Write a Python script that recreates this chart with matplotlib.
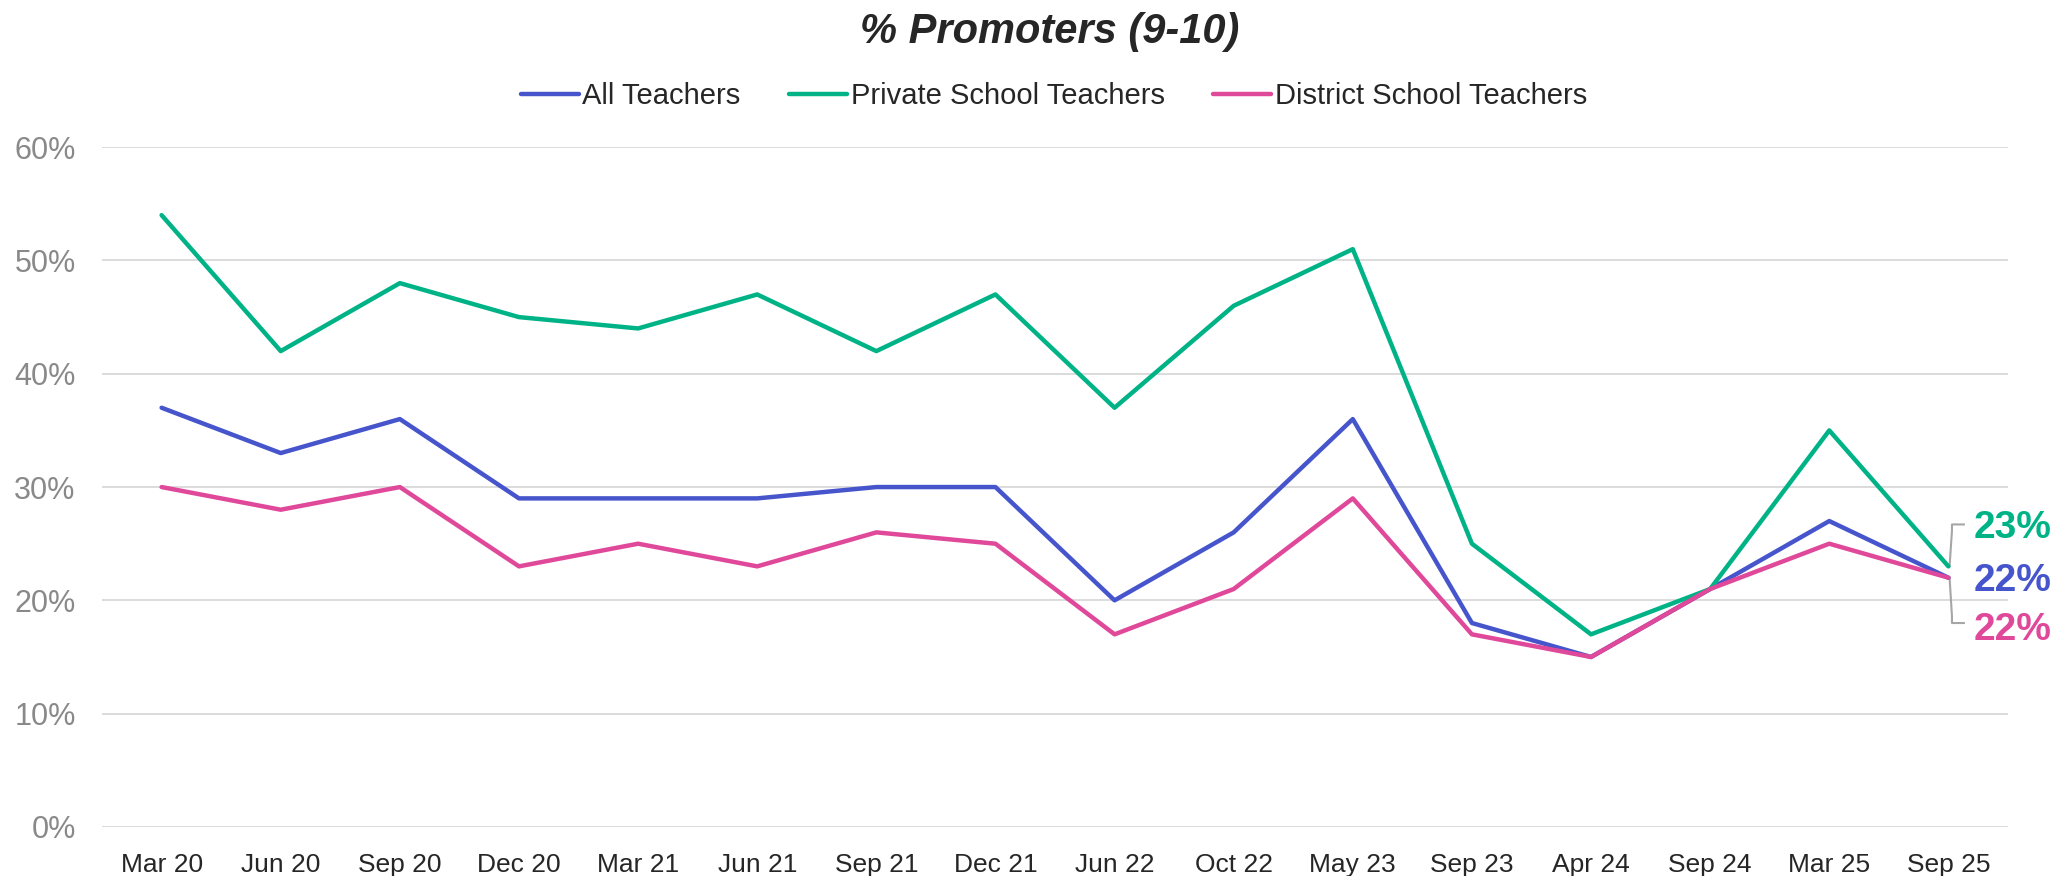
import matplotlib
matplotlib.use("Agg")
import matplotlib.pyplot as plt
from matplotlib.ticker import PercentFormatter

plt.rcParams['font.family'] = ['Liberation Sans', 'DejaVu Sans']

categories = ["Mar 20", "Jun 20", "Sep 20", "Dec 20", "Mar 21", "Jun 21", "Sep 21", "Dec 21",
              "Jun 22", "Oct 22", "May 23", "Sep 23", "Apr 24", "Sep 24", "Mar 25", "Sep 25"]
all_teachers = [37, 33, 36, 29, 29, 29, 30, 30, 20, 26, 36, 18, 15, 21, 27, 22]
private_teachers = [54, 42, 48, 45, 44, 47, 42, 47, 37, 46, 51, 25, 17, 21, 35, 23]
district_teachers = [30, 28, 30, 23, 25, 23, 26, 25, 17, 21, 29, 17, 15, 21, 25, 22]
series_names = ["All Teachers", "Private School Teachers", "District School Teachers"]
colors = ["#4655CC", "#00B386", "#E0489A"]

fig = plt.figure(figsize=(20.66, 8.76), dpi=100)
ax = fig.add_axes([0.0494, 0.056, 0.9225, 0.776])

x = list(range(len(categories)))
series = [all_teachers, private_teachers, district_teachers]
handles = []
for vals, name, c in zip(series, series_names, colors):
    h, = ax.plot(x, vals, color=c, lw=3.2, label=name, solid_capstyle='round', solid_joinstyle='round', zorder=3)
    handles.append(h)

ax.set_ylim(0, 60)
ax.set_xlim(-0.5, len(categories) - 0.5)
ax.set_yticks(range(0, 61, 10))
ax.yaxis.set_major_formatter(PercentFormatter(decimals=0))
ax.set_xticks(x)
ax.set_xticklabels(categories)
ax.grid(axis='y', color='#D9D9D9', lw=1.3, zorder=0)
ax.set_axisbelow(True)
for s in ax.spines.values():
    s.set_visible(False)
ax.tick_params(axis='both', length=0)
ax.tick_params(axis='x', labelsize=19, labelcolor='#262626', pad=18.5)
ax.tick_params(axis='y', labelsize=22, labelcolor='#898989', pad=19)

# End labels with leader brackets
last = len(categories) - 1
end_specs = [
    (private_teachers[-1], 26.4, 26.7, colors[1], private_teachers),
    (all_teachers[-1], 21.7, None, colors[0], all_teachers),
    (district_teachers[-1], 17.4, 18.0, colors[2], district_teachers),
]
for val, ty, by, c, vals in end_specs:
    ax.text(last + 0.21, ty, f"{val}%", color=c, fontsize=28, fontweight='bold',
            va='center', ha='left', clip_on=False)
    if by is not None:
        ax.plot([last + 0.01, last + 0.03, last + 0.03, last + 0.13],
                [vals[-1], vals[-1] + (by - vals[-1]) * 0.85, by, by],
                color='#A6A6A6', lw=1.5, clip_on=False, zorder=2)

fig.text(0.508, 0.963, "% Promoters (9-10)", ha='center', va='center', fontsize=30,
         fontweight='bold', fontstyle='italic', color='#262626')
fig.legend(handles=handles, labels=series_names, loc='center', bbox_to_anchor=(0.51, 0.89),
           ncol=3, frameon=False, fontsize=21, handlelength=2.0, handletextpad=0.12,
           columnspacing=1.65, labelcolor='#262626')

fig.savefig("out.png", dpi=100)
